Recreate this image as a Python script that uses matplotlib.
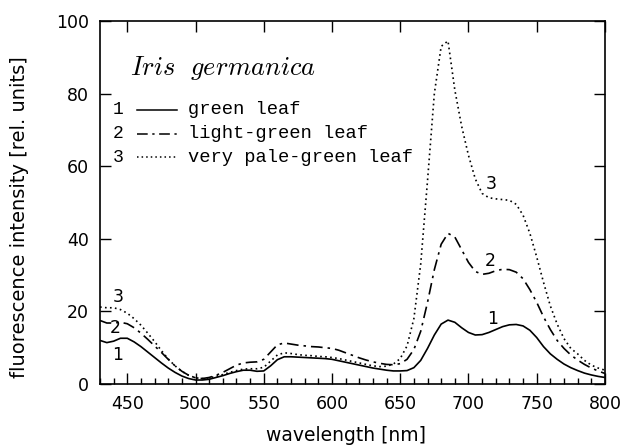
import numpy as np
import matplotlib
matplotlib.use("Agg")
import matplotlib.pyplot as plt
from matplotlib.ticker import MultipleLocator

plt.rcParams["mathtext.fontset"] = "cm"

# wavelength grid [nm], every 5 nm
wavelength = list(range(430, 805, 5))

green = [12.0, 11.4, 11.8, 12.6, 12.6, 11.6, 10.3, 8.8, 7.3, 5.8,
         4.4, 3.2, 2.2, 1.5, 1.1, 1.1, 1.3, 1.8, 2.3, 2.9,
         3.4, 3.8, 3.8, 3.5, 3.6, 5.0, 6.7, 7.5, 7.5, 7.4,
         7.3, 7.2, 7.1, 7.0, 6.8, 6.4, 6.0, 5.6, 5.2, 4.8,
         4.4, 4.1, 3.8, 3.6, 3.6, 3.7, 4.5, 6.5, 9.8, 13.5,
         16.5, 17.6, 17.0, 15.5, 14.2, 13.5, 13.6, 14.2, 15.0, 15.8,
         16.3, 16.4, 16.0, 14.8, 12.8, 10.3, 8.3, 6.8, 5.5, 4.5,
         3.7, 3.0, 2.5, 2.1, 1.8]

light_green = [17.5, 16.8, 16.8, 17.0, 16.6, 15.5, 14.0, 12.3, 10.5, 8.7,
               6.8, 5.0, 3.5, 2.4, 1.7, 1.5, 1.8, 2.4, 3.2, 4.2,
               5.2, 5.8, 6.0, 6.1, 6.8, 8.8, 10.8, 11.3, 11.0, 10.7,
               10.5, 10.3, 10.2, 10.0, 9.8, 9.3, 8.6, 7.9, 7.2, 6.6,
               6.1, 5.7, 5.4, 5.3, 5.6, 6.8, 9.5, 14.5, 22.5, 31.5,
               38.5, 41.5, 40.5, 37.0, 33.5, 31.0, 30.2, 30.5, 31.2, 31.6,
               31.5, 30.8, 29.0, 26.0, 22.5, 18.5, 15.0, 12.0, 9.8, 8.0,
               6.6, 5.4, 4.4, 3.6, 2.9]

pale_green = [21.2, 21.0, 21.0, 20.5, 19.5, 18.0, 16.2, 14.0, 11.7, 9.2,
              6.9, 5.0, 3.5, 2.4, 1.7, 1.5, 1.7, 2.1, 2.6, 3.2,
              3.7, 4.1, 4.2, 4.2, 4.6, 6.3, 8.0, 8.6, 8.4, 8.1,
              7.9, 7.8, 7.6, 7.5, 7.3, 7.0, 6.6, 6.2, 5.8, 5.4,
              5.0, 4.8, 4.9, 5.5, 7.0, 10.5, 18.0, 33.0, 56.0, 80.0,
              93.0, 94.5, 81.0, 71.0, 63.0, 56.5, 52.5, 51.3, 51.0, 50.8,
              50.6, 49.5, 46.5, 41.5, 35.0, 28.0, 21.5, 16.5, 12.5, 9.8,
              8.3, 6.5, 5.2, 4.4, 3.8]

legend_labels = ["green leaf", "light-green leaf", "very pale-green leaf"]

fig = plt.figure(figsize=(6.23, 4.46), dpi=100)
ax = fig.add_axes([0.1605, 0.139, 0.8105, 0.814])

styles = ["-", (0, (7, 3, 1.5, 3)), (0, (1, 2))]
for y, ls in zip([green, light_green, pale_green], styles):
    ax.plot(wavelength, y, color="black", lw=1.2, linestyle=ls)

ax.set_xlim(430, 800)
ax.set_ylim(0, 100)
ax.xaxis.set_major_locator(MultipleLocator(50))
ax.xaxis.set_minor_locator(MultipleLocator(10))
ax.yaxis.set_major_locator(MultipleLocator(20))
ax.tick_params(which="major", direction="in", length=8, width=1,
               top=True, right=True, labelsize=12.5, pad=8)
ax.tick_params(which="minor", direction="in", length=4, width=1)
ax.tick_params(axis="x", which="minor", top=False)
for s in ax.spines.values():
    s.set_linewidth(1.2)

ax.set_xlabel("wavelength [nm]", fontsize=13.5, va="top")
ax.xaxis.set_label_coords(0.487, -0.115)
ax.set_ylabel("fluorescence intensity [rel. units]", fontsize=14, va="center")
ax.yaxis.set_label_coords(-0.16, 0.46)

# curve labels
ax.text(443, 8, "1", fontsize=12.5, ha="center", va="center")
ax.text(441, 15.4, "2", fontsize=12.5, ha="center", va="center")
ax.text(443, 24, "3", fontsize=12.5, ha="center", va="center")
ax.text(718, 17.8, "1", fontsize=12.5, ha="center", va="center")
ax.text(716, 34, "2", fontsize=12.5, ha="center", va="center")
ax.text(717, 55, "3", fontsize=12.5, ha="center", va="center")

# hand-made legend
ax.text(0.06, 0.871, r"$Iris\ \ germanica$", transform=ax.transAxes,
        fontsize=19, va="center")
for i, (lab, ls) in enumerate(zip(legend_labels, styles)):
    yy = 0.755 - i * 0.065
    ax.text(0.026, yy, str(i + 1), transform=ax.transAxes, fontsize=13,
            family="Liberation Mono", va="center")
    ax.plot([0.073, 0.153], [yy, yy], transform=ax.transAxes,
            color="black", lw=1.1, linestyle=ls)
    ax.text(0.174, yy, lab, transform=ax.transAxes, fontsize=13.5,
            family="Liberation Mono", va="center")

fig.savefig("out.png", dpi=100)
